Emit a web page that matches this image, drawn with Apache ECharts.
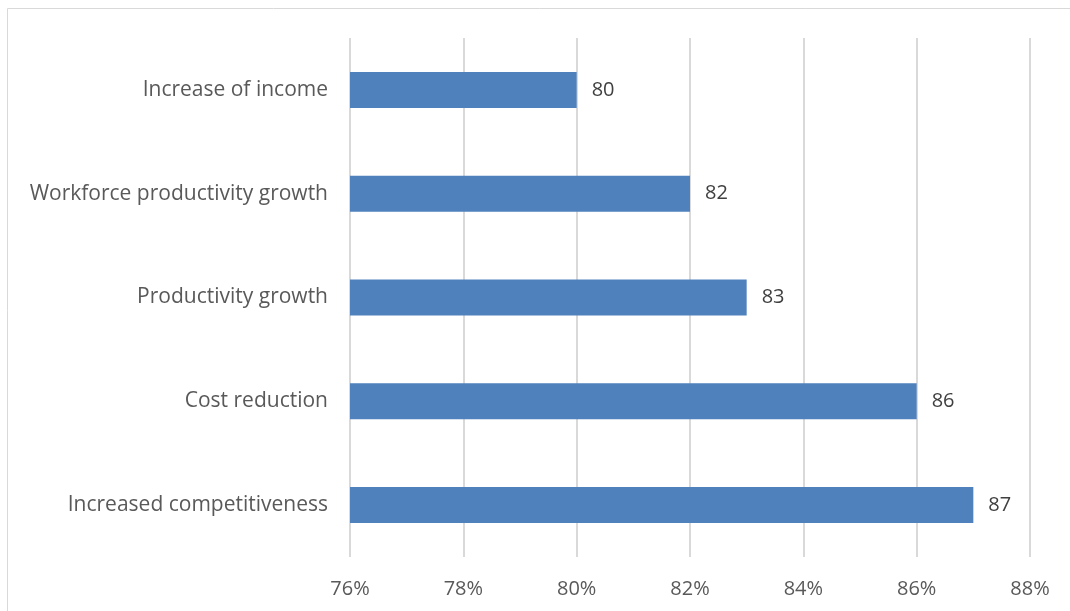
<!DOCTYPE html>
<html><head><meta charset="utf-8">
<script src="https://cdn.jsdelivr.net/npm/echarts@6/dist/echarts.min.js"></script>
<style>html,body{margin:0;padding:0;background:#fff}#c{width:1070px;height:611px}</style>
</head><body><div id="c"></div>
<script>
const categories = ["Increased competitiveness", "Cost reduction", "Productivity growth", "Workforce productivity growth", "Increase of income"];
const values = [87, 86, 83, 82, 80];
const axisMin = 76, axisMax = 88, axisStep = 2;

const chart = echarts.init(document.getElementById('c'), null, {renderer: 'canvas'});
const font = '"Open Sans", "Liberation Sans", sans-serif';
chart.setOption({
  animation: false,
  graphic: [{type: 'rect', shape: {x: 7.5, y: 8.5, width: 1080, height: 640}, style: {fill: 'none', stroke: '#d9d9d9', lineWidth: 1}}],
  grid: {left: 350, right: 40, top: 38, bottom: 54, containLabel: false},
  xAxis: {
    type: 'value', min: axisMin, max: axisMax, interval: axisStep,
    axisLine: {show: false}, axisTick: {show: false},
    splitLine: {lineStyle: {color: '#d9d9d9', width: 2}},
    axisLabel: {formatter: v => v + '%', color: '#595959', fontSize: 20, fontFamily: font, margin: 22}
  },
  yAxis: {
    type: 'category', data: categories,
    axisLine: {show: false}, axisTick: {show: false},
    axisLabel: {color: '#595959', fontSize: 21, fontFamily: font, margin: 22}
  },
  series: [{
    type: 'bar', data: values, barWidth: 36,
    itemStyle: {color: '#4f81bd'},
    label: {show: true, position: 'right', distance: 15, color: '#404040', fontSize: 20, fontFamily: font}
  }]
});
</script></body></html>
